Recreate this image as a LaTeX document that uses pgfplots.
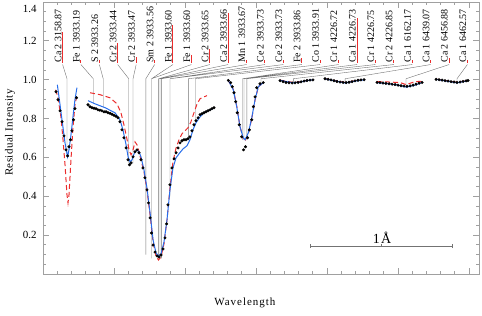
\documentclass[border=0pt]{standalone}
\usepackage{pgfplots}
\pgfplotsset{compat=1.18}
\usepackage{fontspec}
\setmainfont{Liberation Serif}
\newfontfamily\lsfont[LetterSpace=9]{Liberation Serif}
\newfontfamily\lyfont[LetterSpace=4]{Liberation Serif}
\definecolor{bluefit}{RGB}{40,110,235}
\definecolor{redfit}{RGB}{235,45,45}
\definecolor{conn}{RGB}{115,115,115}
\definecolor{axgray}{RGB}{160,160,160}
\begin{document}
\begin{tikzpicture}
\useasboundingbox (0,0) rectangle (482bp,316bp);
\begin{axis}[
  at={(43bp,42bp)}, anchor=south west,
  width=436bp, height=272bp, scale only axis,
  xmin=0, xmax=3.07, ymin=0, ymax=1.4,
  clip=false,
  axis line style={axgray, line width=0.8bp},
  tick style={axgray, line width=0.8bp},
  major tick length=6bp, minor tick length=3bp,
  tick align=inside,
  xtick={0.5,1.0,1.5,2.0,2.5,3.0}, xticklabels={},
  minor xtick={0.1,0.2,0.3,0.4,0.6,0.7,0.8,0.9,1.1,1.2,1.3,1.4,1.6,1.7,1.8,1.9,2.1,2.2,2.3,2.4,2.6,2.7,2.8,2.9},
  ytick={0.2,0.4,0.6,0.8,1.0,1.2},
  extra y ticks={1.4},
  extra y tick style={yticklabel style={yshift=-7bp}},
  minor ytick={0.05,0.1,0.15,0.25,0.3,0.35,0.45,0.5,0.55,0.65,0.7,0.75,0.85,0.9,0.95,1.05,1.1,1.15,1.25,1.3,1.35},
  yticklabel={\pgfmathprintnumber[fixed,fixed zerofill,precision=1]{\tick}},
  /pgf/number format/assume math mode=true,
  ticklabel style={font=\fontsize{11}{13}\selectfont},
  yticklabel style={xshift=-3bp},
  xlabel={\lsfont Wavelength},
  xlabel style={at={(axis description cs:0.463,-0.107)}, anchor=center, font=\fontsize{11}{13}\selectfont},
  ylabel={\lyfont Residual Intensity},
  ylabel style={at={(axis description cs:-0.0757,0.52)}, anchor=center, font=\fontsize{11}{13}\selectfont},
]
% connectors from labels to line positions
\addplot[conn, line width=0.4bp, unbounded coords=jump] coordinates {
(0.138,1.078)(0.169,1.005)(0.169,0.61)(0,nan)
(0.267,1.078)(0.354,1.005)(0.354,0.88)(0,nan)
(0.397,1.078)(0.424,1.005)(0.424,0.86)(0,nan)
(0.526,1.078)(0.604,1.005)(0.604,0.57)(0,nan)
(0.656,1.078)(0.634,1.005)(0.634,0.57)(0,nan)
(0.786,1.078)(0.724,1.005)(0.724,0.10)(0,nan)
(0.915,1.078)(0.764,1.005)(0.764,0.08)(0,nan)
(1.045,1.078)(0.764,1.005)(0.764,0.08)(0,nan)
(1.174,1.078)(0.814,1.005)(0.814,0.08)(0,nan)
(1.304,1.078)(0.824,1.005)(0.824,0.08)(0,nan)
(1.433,1.078)(0.834,1.005)(0.834,0.08)(0,nan)
(1.563,1.078)(0.894,1.005)(0.894,0.40)(0,nan)
(1.693,1.078)(0.894,1.005)(0.894,0.40)(0,nan)
(1.822,1.078)(1.024,1.005)(1.024,0.70)(0,nan)
(1.952,1.078)(1.074,1.005)(1.074,0.79)(0,nan)
(2.081,1.078)(1.405,1.005)(1.405,0.69)(0,nan)
(2.211,1.078)(1.415,1.005)(1.415,0.69)(0,nan)
(2.340,1.078)(1.435,1.005)(1.435,0.70)(0,nan)
(2.470,1.078)(1.535,1.005)(1.535,0.97)(0,nan)
(2.600,1.078)(1.763,1.005)(1.763,0.985)(0,nan)
(2.729,1.078)(2.127,1.005)(2.127,0.985)(0,nan)
(2.859,1.078)(2.556,1.005)(2.556,0.966)(0,nan)
(2.988,1.078)(2.915,1.005)(2.915,0.986)
};
% red line-strength bars
\addplot[redfit, line width=1bp, unbounded coords=jump] coordinates {
(0.138,1.088)(0.138,1.247)(0,nan)
(0.267,1.088)(0.267,1.103)(0,nan)
(0.397,1.088)(0.397,1.103)(0,nan)
(0.526,1.088)(0.526,1.191)(0,nan)
(0.656,1.088)(0.656,1.119)(0,nan)
(0.786,1.088)(0.786,1.100)(0,nan)
(0.915,1.088)(0.915,1.284)(0,nan)
(1.045,1.088)(1.045,1.129)(0,nan)
(1.174,1.088)(1.174,1.160)(0,nan)
(1.304,1.088)(1.304,1.345)(0,nan)
(1.433,1.088)(1.433,1.100)(0,nan)
(1.563,1.088)(1.563,1.100)(0,nan)
(1.693,1.088)(1.693,1.100)(0,nan)
(1.822,1.088)(1.822,1.113)(0,nan)
(1.952,1.088)(1.952,1.100)(0,nan)
(2.081,1.088)(2.081,1.100)(0,nan)
(2.211,1.088)(2.211,1.320)(0,nan)
(2.340,1.088)(2.340,1.100)(0,nan)
(2.470,1.088)(2.470,1.100)(0,nan)
(2.600,1.088)(2.600,1.100)(0,nan)
(2.729,1.088)(2.729,1.100)(0,nan)
(2.859,1.088)(2.859,1.113)(0,nan)
(2.988,1.088)(2.988,1.100)
};
% red dashed model
\addplot[redfit, line width=1bp, dash pattern=on 5bp off 3bp, unbounded coords=jump] coordinates {
(0.089,0.948)(0.106,0.907)(0.127,0.804)(0.141,0.691)(0.155,0.562)(0.169,0.407)(0.176,0.366)(0.183,0.407)(0.197,0.588)(0.211,0.753)(0.225,0.871)(0.236,0.912)(0,nan)
(0.331,0.933)(0.401,0.923)(0.472,0.907)(0.521,0.876)(0.549,0.830)(0.570,0.768)(0.592,0.691)(0.606,0.639)(0.620,0.613)(0.634,0.639)(0.648,0.680)(0.662,0.665)(0.676,0.629)(0.690,0.588)(0.711,0.526)(0.732,0.433)(0.754,0.304)(0.775,0.165)(0.796,0.093)(0.813,0.072)(0.831,0.088)(0.852,0.155)(0.873,0.278)(0.894,0.443)(0.915,0.577)(0.937,0.649)(0.958,0.691)(0.979,0.722)(1.000,0.737)(1.021,0.753)(1.042,0.784)(1.063,0.830)(1.085,0.876)(1.106,0.902)(1.134,0.912)(1.155,0.918)(0,nan)
(1.305,0.996)(1.340,0.950)(1.364,0.865)(1.387,0.760)(1.410,0.695)(1.423,0.685)(1.446,0.722)(1.470,0.800)(1.493,0.895)(1.516,0.962)(1.551,0.987)(0,nan)
(1.669,0.998)(1.716,0.992)(1.763,0.986)(1.810,0.990)(1.857,0.996)(1.904,1.000)(0,nan)
(1.986,1.005)(2.056,0.996)(2.127,0.986)(2.197,0.995)(2.268,1.000)(0,nan)
(2.352,0.990)(2.444,0.988)(2.514,0.985)(2.556,0.975)(2.620,0.990)(2.669,0.992)(0,nan)
(2.768,1.003)(2.831,0.996)(2.915,0.987)(2.958,0.992)(2.993,0.997)
};
% observed spectrum
\addplot[only marks, mark=*, mark size=1.3bp, black] coordinates {
(0.092,0.938)(0.106,0.897)(0.120,0.840)(0.134,0.784)(0.148,0.711)(0.162,0.639)(0.173,0.608)(0.183,0.655)(0.194,0.691)(0.204,0.737)(0.215,0.794)(0.225,0.851)(0.236,0.907)
(0.317,0.871)(0.331,0.861)(0.345,0.856)(0.359,0.853)(0.373,0.851)(0.387,0.845)(0.401,0.843)(0.415,0.840)(0.430,0.835)(0.444,0.835)(0.458,0.830)(0.472,0.827)(0.486,0.822)(0.500,0.817)(0.514,0.812)(0.528,0.804)(0.542,0.784)(0.556,0.742)(0.570,0.701)(0.585,0.649)(0.599,0.588)(0.609,0.562)(0.620,0.572)(0.634,0.603)(0.648,0.629)(0.662,0.639)(0.676,0.624)(0.690,0.588)(0.704,0.546)(0.718,0.495)(0.732,0.433)(0.743,0.366)(0.754,0.289)(0.764,0.211)(0.775,0.149)(0.789,0.113)(0.803,0.093)(0.817,0.088)(0.831,0.098)(0.845,0.129)(0.859,0.186)(0.870,0.258)(0.880,0.356)(0.894,0.459)(0.908,0.546)(0.923,0.593)(0.937,0.624)(0.951,0.649)(0.965,0.675)(0.979,0.686)(0.993,0.691)(1.007,0.691)(1.021,0.696)(1.035,0.706)(1.049,0.737)(1.063,0.768)(1.077,0.789)(1.092,0.804)(1.106,0.820)(1.120,0.825)(1.134,0.830)(1.148,0.835)(1.162,0.840)(1.176,0.845)(1.190,0.851)(1.204,0.856)
(1.305,0.996)(1.322,0.985)(1.333,0.964)(1.345,0.933)(1.357,0.887)(1.368,0.830)(1.382,0.768)(1.399,0.706)(1.412,0.639)(1.426,0.655)(1.440,0.701)(1.453,0.742)(1.470,0.794)(1.481,0.861)(1.493,0.912)(1.505,0.959)(1.528,0.979)(1.551,0.985)
(1.669,0.995)(1.690,0.990)(1.711,0.986)(1.732,0.984)(1.754,0.983)(1.775,0.984)(1.796,0.986)(1.817,0.989)(1.838,0.993)(1.859,0.996)(1.880,0.998)(1.901,0.999)
(1.986,1.005)(2.007,1.002)(2.028,0.999)(2.049,0.995)(2.070,0.991)(2.092,0.988)(2.113,0.986)(2.134,0.985)(2.155,0.987)(2.176,0.990)(2.197,0.994)(2.218,0.997)(2.239,0.999)(2.261,1.000)
(2.352,0.986)(2.373,0.985)(2.394,0.983)(2.415,0.981)(2.437,0.979)(2.458,0.977)(2.479,0.975)(2.500,0.972)(2.521,0.969)(2.542,0.967)(2.563,0.966)(2.585,0.968)(2.606,0.972)(2.627,0.977)(2.648,0.982)(2.669,0.986)
(2.768,1.002)(2.789,1.000)(2.810,0.998)(2.831,0.995)(2.852,0.993)(2.873,0.990)(2.894,0.988)(2.915,0.986)(2.937,0.988)(2.958,0.991)(2.979,0.994)(2.993,0.996)
};
% blue fit
\addplot[bluefit, line width=1bp, unbounded coords=jump] coordinates {
(0.101,0.974)(0.120,0.871)(0.141,0.753)(0.155,0.675)(0.173,0.603)(0.183,0.639)(0.197,0.716)(0.211,0.809)(0.225,0.897)(0.239,0.959)(0,nan)
(0.317,0.892)(0.366,0.876)(0.437,0.856)(0.507,0.830)(0.542,0.794)(0.563,0.742)(0.585,0.665)(0.599,0.603)(0.613,0.577)(0.627,0.588)(0.644,0.624)(0.662,0.639)(0.676,0.629)(0.690,0.603)(0.711,0.536)(0.732,0.443)(0.754,0.314)(0.775,0.175)(0.796,0.108)(0.813,0.093)(0.831,0.103)(0.852,0.165)(0.873,0.278)(0.894,0.433)(0.915,0.546)(0.937,0.598)(0.958,0.619)(0.986,0.644)(1.014,0.660)(1.035,0.691)(1.056,0.742)(1.077,0.778)(1.106,0.809)(1.134,0.830)(1.162,0.840)(1.197,0.851)(0,nan)
(1.305,0.996)(1.340,0.948)(1.364,0.861)(1.387,0.758)(1.410,0.701)(1.423,0.691)(1.446,0.727)(1.470,0.804)(1.493,0.897)(1.516,0.964)(1.551,0.985)(0,nan)
(1.669,0.997)(1.716,0.990)(1.763,0.984)(1.810,0.988)(1.857,0.995)(1.904,1.000)(0,nan)
(1.986,1.004)(2.056,0.994)(2.127,0.983)(2.197,0.993)(2.268,1.000)(0,nan)
(2.352,0.985)(2.444,0.978)(2.514,0.970)(2.556,0.962)(2.620,0.972)(2.669,0.986)(0,nan)
(2.768,1.002)(2.831,0.994)(2.915,0.984)(2.958,0.990)(2.993,0.996)
};
% line identification labels
\begin{scope}[every node/.style={rotate=90, anchor=west, inner sep=1bp, font=\fontsize{10}{12}\selectfont}]
\node at (axis cs:0.106,1.082) {Ca 2 3158.87};
\node at (axis cs:0.235,1.082) {Fe 1 3933.19};
\node at (axis cs:0.365,1.082) {S 2 3933.26};
\node at (axis cs:0.494,1.082) {Cr 2 3933.44};
\node at (axis cs:0.624,1.082) {Cr 2 3933.47};
\node at (axis cs:0.754,1.082) {Sm 2 3933.56};
\node at (axis cs:0.883,1.082) {Fe 1 3933.60};
\node at (axis cs:1.013,1.082) {Fe 1 3933.60};
\node at (axis cs:1.142,1.082) {Cr 2 3933.65};
\node at (axis cs:1.272,1.082) {Ca 2 3933.66};
\node at (axis cs:1.401,1.082) {Mn 1 3933.67};
\node at (axis cs:1.531,1.082) {Ce 2 3933.73};
\node at (axis cs:1.661,1.082) {Ce 2 3933.73};
\node at (axis cs:1.790,1.082) {Fe 2 3933.86};
\node at (axis cs:1.920,1.082) {Co 1 3933.91};
\node at (axis cs:2.049,1.082) {Cr 1 4226.72};
\node at (axis cs:2.179,1.082) {Ca 1 4226.73};
\node at (axis cs:2.308,1.082) {Cr 1 4226.75};
\node at (axis cs:2.438,1.082) {Cr 2 4226.85};
\node at (axis cs:2.568,1.082) {Ca 1 6162.17};
\node at (axis cs:2.697,1.082) {Ca 1 6439.07};
\node at (axis cs:2.827,1.082) {Ca 2 6456.88};
\node at (axis cs:2.956,1.082) {Ca 1 6462.57};
\end{scope}
% 1 Angstrom scale bar
\draw[conn, line width=0.6bp] (axis cs:1.880,0.144) -- (axis cs:2.880,0.144);
\draw[conn, line width=0.6bp] (axis cs:1.880,0.133) -- (axis cs:1.880,0.155);
\draw[conn, line width=0.6bp] (axis cs:2.880,0.133) -- (axis cs:2.880,0.155);
\draw[conn, line width=0.6bp] (axis cs:2.385,0.144) -- (axis cs:2.385,0.155);
\node[anchor=base, inner sep=0pt, font=\fontsize{14}{16}\selectfont] at (axis cs:2.387,0.157) {\lsfont 1Å};
\end{axis}
\end{tikzpicture}
\end{document}
